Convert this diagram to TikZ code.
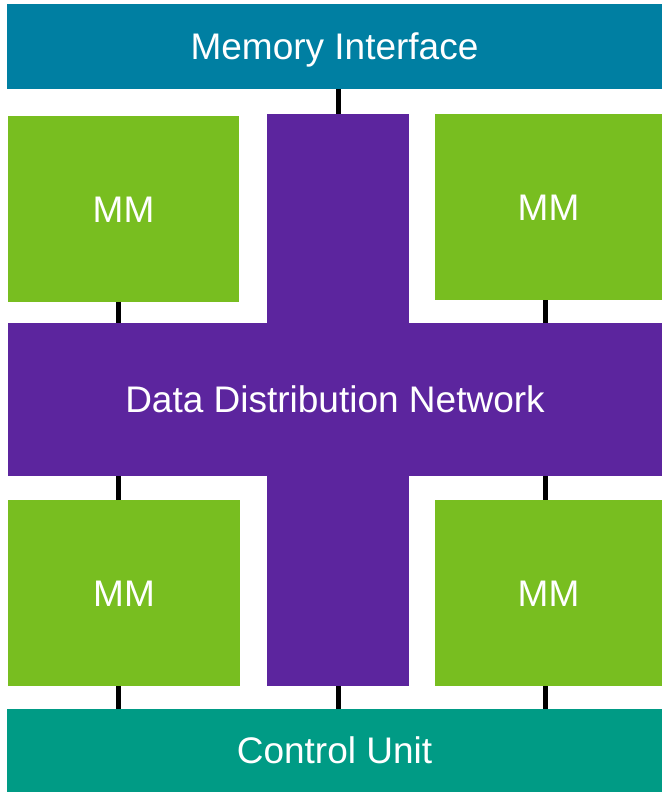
\documentclass[tikz,border=0pt]{standalone}
\usepackage{fontspec}
\setmainfont{Liberation Sans}
\definecolor{memblue}{RGB}{0,127,162}
\definecolor{mmgreen}{RGB}{120,190,32}
\definecolor{netpurple}{RGB}{92,37,158}
\definecolor{ctrlteal}{RGB}{0,155,133}
\tikzset{
  block/.style={rectangle, inner sep=0pt, outer sep=0pt, draw=none, text=white,
                font=\fontsize{37}{40}\selectfont, text height=26.5pt, text depth=0pt},
  membox/.style={block, fill=mmgreen},
  wire/.style={draw=black, line width=5pt}
}
\begin{document}
\begin{tikzpicture}[x=1pt,y=-1pt]
  \useasboundingbox (0,0) rectangle (662,792);
  \fill[white] (0,0) rectangle (662,792);

  % column positions of the vertical links
  \coordinate (xl) at (118,0);
  \coordinate (xr) at (545,0);

  % top and bottom bars
  \node[block, fill=memblue, minimum width=655pt, minimum height=85pt]
    (mi) at (334.5,46.5) {Memory Interface};
  \node[block, fill=ctrlteal, minimum width=655pt, minimum height=83pt]
    (cu) at (334.5,750.5) {Control Unit};

  % cross-shaped data distribution network
  \node[block, fill=netpurple, minimum width=142pt, minimum height=572pt]
    (vbar) at (338,400) {};
  \node[block, fill=netpurple, minimum width=654pt, minimum height=153pt]
    (hbar) at (335,399.5) {Data Distribution Network};

  % memory modules
  \node[membox, minimum width=231pt, minimum height=186pt] (mm1) at (123.5,209) {MM};
  \node[membox, minimum width=227pt, minimum height=186pt] (mm2) at (548.5,207) {MM};
  \node[membox, minimum width=232pt, minimum height=186pt] (mm3) at (124,593) {MM};
  \node[membox, minimum width=227pt, minimum height=186pt] (mm4) at (548.5,593) {MM};

  % links
  \draw[wire] (mi.south -| vbar.center) -- (vbar.north);
  \draw[wire] (mm1.south -| xl) -- (hbar.north -| xl);
  \draw[wire] (mm2.south -| xr) -- (hbar.north -| xr);
  \draw[wire] (hbar.south -| xl) -- (mm3.north -| xl);
  \draw[wire] (hbar.south -| xr) -- (mm4.north -| xr);
  \draw[wire] (mm3.south -| xl) -- (cu.north -| xl);
  \draw[wire] (vbar.south) -- (cu.north -| vbar.center);
  \draw[wire] (mm4.south -| xr) -- (cu.north -| xr);
\end{tikzpicture}
\end{document}
